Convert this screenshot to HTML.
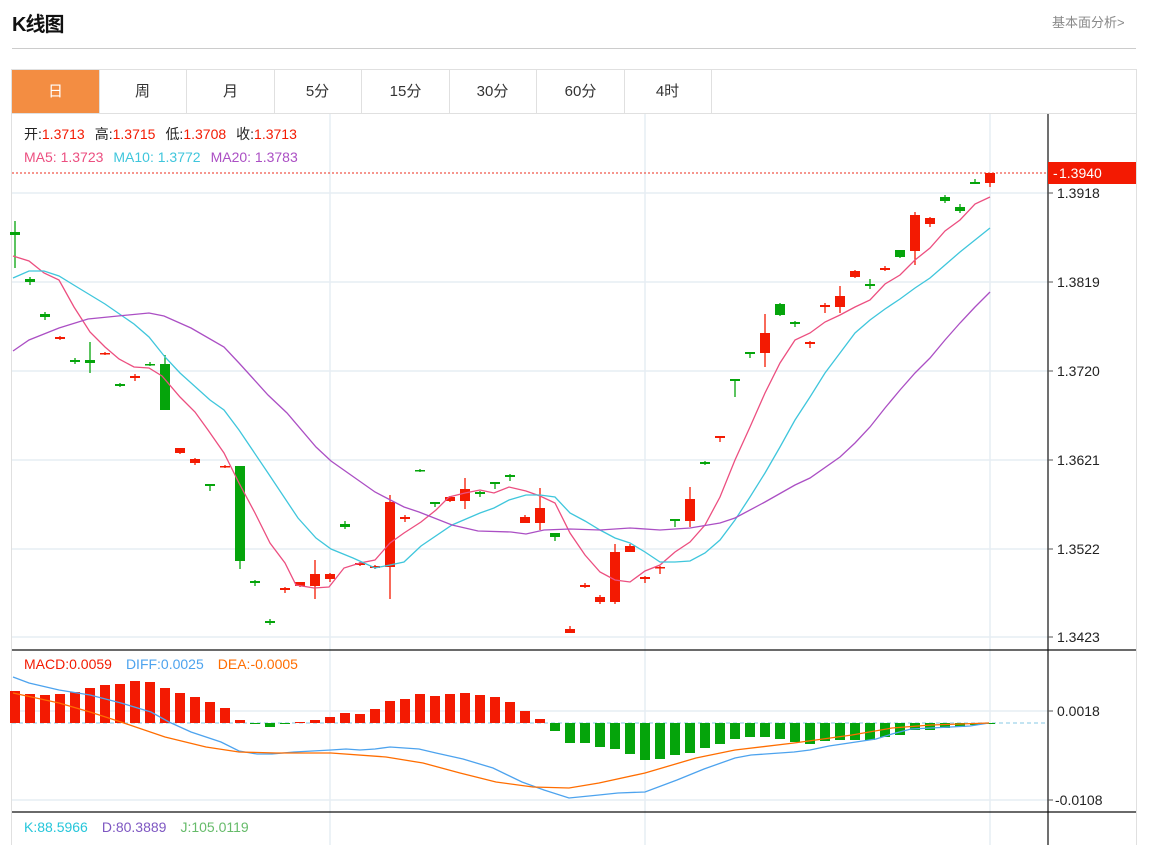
<!DOCTYPE html>
<html><head><meta charset="utf-8">
<style>
html,body{margin:0;padding:0;background:#fff;width:1152px;height:845px;overflow:hidden}
body{font-family:"Liberation Sans","Noto Sans CJK SC",sans-serif;position:relative}
.t{position:absolute;left:12px;top:8px;font-size:20px;font-weight:bold;color:#111;letter-spacing:-1px}
.lk{position:absolute;left:1052px;top:12px;font-size:13px;color:#888}
.hr{position:absolute;left:12px;top:48px;width:1124px;height:1px;background:#ccc}
.box{position:absolute;left:11px;top:69px;width:1124px;height:780px;border:1px solid #e0e0e0}
.tabs{position:absolute;left:12px;top:70px;height:43px;width:1124px;border-bottom:1px solid #e0e0e0}
.tab{position:absolute;top:0;height:43px;line-height:43px;text-align:center;font-size:15px;color:#333;border-right:1px solid #e0e0e0}
svg{position:absolute;left:0;top:0}
</style></head><body>
<div class="t">K线图</div>
<div class="lk">基本面分析&gt;</div>
<div class="hr"></div>
<div class="box"></div>
<div class="tabs">
<div class="tab" style="left:0;width:87px;background:#f38d42;color:#fff">日</div>
<div class="tab" style="left:87px;width:87px">周</div>
<div class="tab" style="left:175px;width:87px">月</div>
<div class="tab" style="left:262px;width:87px">5分</div>
<div class="tab" style="left:350px;width:87px">15分</div>
<div class="tab" style="left:437px;width:87px">30分</div>
<div class="tab" style="left:525px;width:87px">60分</div>
<div class="tab" style="left:612px;width:87px">4时</div>
</div>
<svg id="s" width="1152" height="845" xmlns="http://www.w3.org/2000/svg" font-family="Liberation Sans, Noto Sans CJK SC, sans-serif">
<g stroke="#e6edf3" stroke-width="1.5">
<line x1="330" y1="114" x2="330" y2="845"/><line x1="645" y1="114" x2="645" y2="845"/><line x1="990" y1="114" x2="990" y2="845"/>
<line x1="12" y1="193" x2="1048" y2="193"/><line x1="12" y1="282" x2="1048" y2="282"/><line x1="12" y1="371" x2="1048" y2="371"/>
<line x1="12" y1="460" x2="1048" y2="460"/><line x1="12" y1="549" x2="1048" y2="549"/><line x1="12" y1="637" x2="1048" y2="637"/>
<line x1="12" y1="711" x2="1048" y2="711"/><line x1="12" y1="800" x2="1048" y2="800"/>
</g>
<line x1="12" y1="173" x2="1048" y2="173" stroke="#f0574a" stroke-width="1.2" stroke-dasharray="2,2"/>
<line x1="12" y1="723" x2="1048" y2="723" stroke="#9fd3ea" stroke-width="1.2" stroke-dasharray="4,3"/>
<g id="cd"></g><g id="mb"></g>
<g fill="none" stroke-width="1.3">
<polyline stroke="#ec4f80" points="13,256 29,261 44,273 59,280 74,307 90,332 105,347 119,359 134,367 149,368 162,376 180,397 195,412 208,430 224,453 239,483 255,513 270,543 285,563 296,585 314,588 329,587 344,568 360,563 375,560 390,543 404,533 421,522 436,510 449,497 465,493 480,490 494,493 509,487 526,491 540,496 555,503 570,533 585,555 600,572 615,580 630,582 645,571 660,565 675,552 690,542 705,525 720,497 735,460 750,427 765,393 780,363 795,340 810,333 825,322 840,315 855,307 870,300 885,284 900,275 915,260 930,248 945,231 960,220 975,204 990,197"/>
<polyline stroke="#3fc6dc" points="13,278 29,271 44,271 59,276 77,287 105,304 134,324 149,337 165,357 180,373 210,400 224,410 239,430 268,473 298,518 316,538 331,549 353,558 375,568 390,565 404,562 421,546 452,525 480,513 494,508 509,500 526,495 540,495 555,497 570,513 585,521 600,530 615,538 630,543 645,552 660,562 675,562 690,561 705,553 720,540 735,520 750,497 765,473 780,447 795,420 810,397 825,373 840,353 855,333 870,320 885,309 900,299 915,288 930,278 945,265 960,252 975,240 990,228"/>
<polyline stroke="#ab4fc4" points="13,351 29,340 59,328 88,319 118,316 149,313 164,316 191,328 224,347 239,363 268,395 287,413 316,447 331,461 375,492 404,507 419,512 452,525 478,531 511,532 526,534 544,530 570,529 600,530 630,528 660,530 690,528 720,523 735,518 765,502 795,485 810,478 840,457 855,443 870,427 885,408 900,390 915,373 930,358 945,340 960,323 975,307 990,292"/>
<polyline stroke="#4da3ee" points="13,677 29,683 59,690 90,695 121,703 151,712 169,722 191,732 221,742 239,751 257,754 272,754 294,752 331,750 346,749 360,750 375,749 390,747 419,749 436,753 463,759 493,768 522,782 544,790 569,798 599,795 618,793 645,792 677,780 704,769 735,758 751,755 794,752 810,750 829,746 876,739 892,734 911,729 931,728 970,726 989,723"/>
<polyline stroke="#ff6d00" points="13,693 59,703 90,712 121,722 165,737 206,747 239,752 276,753 331,753 386,757 423,763 460,773 496,782 533,787 569,788 599,783 645,773 696,758 735,750 794,743 852,735 892,728 931,725 989,723"/>
</g>
<g stroke="#111" stroke-width="1.2">
<line x1="1048" y1="114" x2="1048" y2="845"/>
<line x1="12" y1="650" x2="1136" y2="650"/>
<line x1="12" y1="812" x2="1136" y2="812"/>
</g>
<g stroke="#555"><line x1="1048" y1="193" x2="1053" y2="193"/><line x1="1048" y1="282" x2="1053" y2="282"/><line x1="1048" y1="371" x2="1053" y2="371"/><line x1="1048" y1="460" x2="1053" y2="460"/><line x1="1048" y1="549" x2="1053" y2="549"/><line x1="1048" y1="637" x2="1053" y2="637"/><line x1="1048" y1="711" x2="1053" y2="711"/><line x1="1048" y1="800" x2="1053" y2="800"/></g>
<rect x="1048" y="162" width="88" height="22" fill="#f31a02"/>
<g font-size="14" fill="#222">
<text x="1053" y="178" fill="#fff">-</text><text x="1059" y="178" fill="#fff">1.3940</text>
<text x="1057" y="198">1.3918</text><text x="1057" y="287">1.3819</text><text x="1057" y="376">1.3720</text>
<text x="1057" y="465">1.3621</text><text x="1057" y="554">1.3522</text><text x="1057" y="642">1.3423</text>
<text x="1057" y="716">0.0018</text><text x="1055" y="805">-0.0108</text>
</g>
<g font-size="14">
<text x="24" y="139"><tspan fill="#222">开:</tspan><tspan fill="#f31a02">1.3713</tspan><tspan fill="#222" dx="10">高:</tspan><tspan fill="#f31a02">1.3715</tspan><tspan fill="#222" dx="10">低:</tspan><tspan fill="#f31a02">1.3708</tspan><tspan fill="#222" dx="10">收:</tspan><tspan fill="#f31a02">1.3713</tspan></text>
<text x="24" y="162"><tspan fill="#ec4f80">MA5: 1.3723</tspan><tspan fill="#3fc6dc" dx="10">MA10: 1.3772</tspan><tspan fill="#ab4fc4" dx="10">MA20: 1.3783</tspan></text>
<text x="24" y="669"><tspan fill="#f31a02">MACD:0.0059</tspan><tspan fill="#4da3ee" dx="14">DIFF:0.0025</tspan><tspan fill="#ff6d00" dx="14">DEA:-0.0005</tspan></text>
<text x="24" y="832"><tspan fill="#26c6da">K:88.5966</tspan><tspan fill="#7e57c2" dx="14">D:80.3889</tspan><tspan fill="#66bb6a" dx="14">J:105.0119</tspan></text>
</g>
</svg>
<script>
var R="#f31a02",G="#05a40b";
var c=[[232,235,221,268,G],[279,282,277,285,G],[314,317,312,320,G],[337,339,336,340,R],[360,362,358,364,G],[360,363,342,373,G],[353,354,352,355,R],[384,386,383,387,G],[376,378,374,381,R],[364,365,362,366,G],[364,410,355,410,G],[448,453,448,454,R],[459,463,458,465,R],[484,486,484,491,G],[466,467,465,468,R],[466,561,466,569,G],[581,583,580,586,G],[621,623,619,625,G],[588,590,587,593,R],[582,586,582,587,R],[574,586,560,599,R],[574,579,573,582,R],[524,527,521,529,G],[563,565,562,566,R],[566,568,565,569,R],[502,567,495,599,R],[517,519,515,522,R],[470,471,469,472,G],[502,504,502,507,G],[497,501,496,502,R],[489,501,478,509,R],[492,494,491,497,G],[482,484,482,489,G],[475,477,474,481,G],[517,523,515,523,R],[508,523,488,530,R],[533,537,533,541,G],[629,633,626,633,R],[585,587,583,588,R],[597,602,595,604,R],[552,602,544,604,R],[546,552,544,552,R],[577,579,576,583,R],[567,568,566,574,R],[519,521,519,527,G],[499,521,487,527,R],[462,464,461,465,G],[436,438,436,442,R],[379,381,379,397,G],[352,354,352,358,G],[333,353,314,367,R],[304,315,303,316,G],[322,324,321,327,G],[342,344,341,348,R],[305,307,303,313,R],[296,307,286,313,R],[271,277,270,278,R],[284,286,279,289,G],[268,270,266,271,R],[250,257,250,258,G],[215,251,212,265,R],[218,224,217,227,R],[197,201,195,203,G],[207,211,204,213,G],[182,184,179,184,G],[173,183,173,187,R]];
var m=[691,694,695,694,692,688,685,684,681,682,688,693,697,702,708,720,724,727,724,722,720,717,713,714,709,701,699,694,696,694,693,695,697,702,711,719,731,743,743,747,749,754,760,759,755,753,748,744,739,737,737,739,742,744,741,740,740,740,737,735,730,730,728,727,725,724];
var s="",t="";
for(var i=0;i<c.length;i++){var x=15+15*i,d=c[i];
s+='<line x1="'+x+'" y1="'+d[2]+'" x2="'+x+'" y2="'+d[3]+'" stroke="'+d[4]+'" stroke-width="1.3"/>';
var h=Math.max(d[1]-d[0],1.5);s+='<rect x="'+(x-5)+'" y="'+d[0]+'" width="10" height="'+h+'" fill="'+d[4]+'"/>';
var v=m[i],z=723;if(Math.abs(v-z)<1)continue;
t+='<rect x="'+(x-5)+'" y="'+Math.min(v,z)+'" width="10" height="'+Math.abs(v-z)+'" fill="'+(v<z?R:G)+'"/>';}
document.getElementById("cd").innerHTML=s;document.getElementById("mb").innerHTML=t;
</script>
</body></html>
